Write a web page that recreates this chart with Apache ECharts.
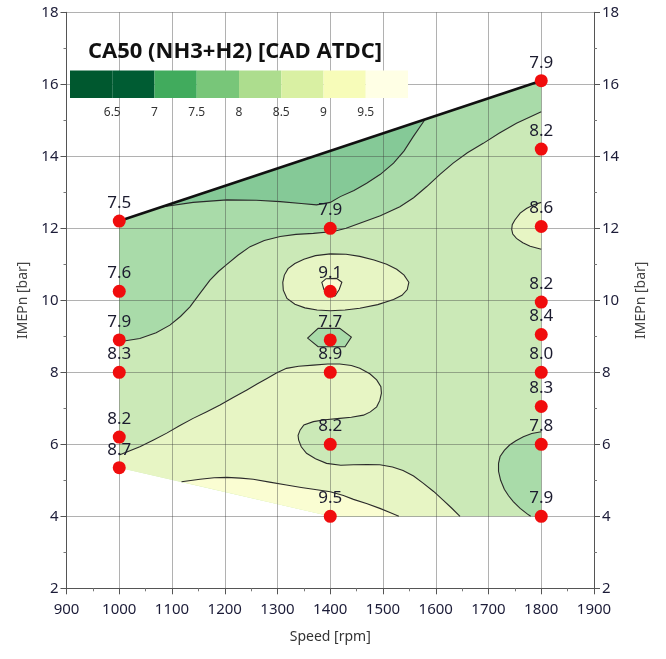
<!DOCTYPE html>
<html>
<head>
<meta charset="utf-8">
<script src="https://cdn.jsdelivr.net/npm/echarts@6/dist/echarts.min.js"></script>
<style>
  html, body { margin: 0; padding: 0; background: #ffffff; }
  #chart { width: 666px; height: 659px; }
</style>
</head>
<body>
<div id="chart"></div>
<script>
// Measured operating points: engine speed [rpm], IMEPn [bar], CA50 [CAD ATDC]
const ptSpeed = [1000, 1000, 1000, 1000, 1000, 1000,
                 1400, 1400, 1400, 1400, 1400, 1400,
                 1800, 1800, 1800, 1800, 1800, 1800, 1800, 1800, 1800];
const ptImep  = [12.2, 10.25, 8.9, 8.0, 6.2, 5.35,
                 12.0, 10.25, 8.9, 8.0, 6.0, 4.0,
                 16.1, 14.2, 12.05, 9.95, 9.05, 8.0, 7.05, 6.0, 4.0];
const ptCA50  = [7.5, 7.6, 7.9, 8.3, 8.2, 8.7,
                 7.9, 9.1, 7.7, 8.9, 8.2, 9.5,
                 7.9, 8.2, 8.6, 8.2, 8.4, 8.0, 8.3, 7.8, 7.9];

// Colour scale of the CA50 map (band edges and colours)
const levelEdges   = [6.0, 6.5, 7.0, 7.5, 8.0, 8.5, 9.0, 9.5, 10.0];
const levelColors  = ['#00582f', '#005c33', '#41ab5d', '#78c679', '#addd8e', '#d9f0a3', '#f7fcb9', '#ffffe5'];
const levelTicks   = [6.5, 7, 7.5, 8, 8.5, 9, 9.5];

// Map outline in (speed, IMEPn): full-load edge on top, measured range below
const fullLoadEdge = [[1000, 12.2], [1800, 16.1]];
const mapHull = [[1000, 12.2], [1800, 16.1], [1800, 4.0], [1400, 4.0], [1000, 5.35]];

// Iso-CA50 lines in (speed, IMEPn)
const iso75Top = [[1080, 12.59], [1140, 12.72], [1204, 12.79], [1260, 12.78], [1305, 12.74], [1345, 12.69],
                  [1374, 12.65], [1400, 12.72], [1419, 12.88], [1445, 13.05], [1469, 13.25], [1495, 13.5],
                  [1520, 13.81], [1540, 14.15], [1557, 14.54], [1580, 15.03]];
const iso8Top  = [[1000, 8.85], [1039, 8.94], [1070, 9.1], [1096, 9.31], [1116, 9.55], [1134, 9.82],
                  [1152, 10.17], [1172, 10.56], [1188, 10.8], [1204, 11.0], [1225, 11.25], [1248, 11.49],
                  [1275, 11.66], [1305, 11.77], [1335, 11.83], [1368, 11.86], [1406, 11.91], [1430, 12.0],
                  [1456, 12.14], [1495, 12.35], [1532, 12.6], [1558, 12.85], [1583, 13.16], [1608, 13.5],
                  [1633, 13.81], [1660, 14.1], [1690, 14.36], [1720, 14.64], [1753, 14.92], [1800, 15.24]];
const iso85Low = [[1000, 5.7], [1039, 5.93], [1065, 6.12], [1090, 6.31], [1115, 6.52], [1140, 6.72],
                  [1165, 6.9], [1191, 7.09], [1216, 7.3], [1242, 7.51], [1262, 7.68], [1280, 7.83],
                  [1298, 7.98], [1317, 8.11], [1340, 8.17], [1368, 8.2], [1395, 8.23], [1418, 8.23],
                  [1440, 8.19], [1456, 8.11], [1475, 7.96], [1488, 7.79], [1496, 7.6], [1497, 7.42],
                  [1494, 7.22], [1488, 7.04], [1476, 6.9], [1463, 6.81], [1440, 6.75], [1418, 6.72],
                  [1390, 6.68], [1368, 6.63], [1350, 6.54], [1343, 6.4], [1339, 6.25], [1340, 6.12],
                  [1345, 5.93], [1355, 5.75], [1372, 5.6], [1393, 5.47], [1420, 5.42], [1444, 5.43],
                  [1470, 5.44], [1494, 5.43], [1518, 5.37], [1538, 5.27], [1558, 5.12], [1576, 4.92],
                  [1596, 4.69], [1614, 4.45], [1630, 4.23], [1646, 4.0]];
const iso9Low  = [[1118, 4.96], [1153, 5.03], [1180, 5.07], [1204, 5.08], [1230, 5.06], [1254, 5.03],
                  [1285, 4.95], [1317, 4.87], [1345, 4.8], [1368, 4.75], [1400, 4.68], [1425, 4.58],
                  [1444, 4.47], [1470, 4.35], [1494, 4.22], [1512, 4.11], [1530, 4.0]];
const iso85Right = [[1800, 12.72], [1785, 12.65], [1772, 12.55], [1760, 12.42], [1750, 12.23], [1745, 12.1],
                    [1744, 11.97], [1746, 11.84], [1753, 11.72], [1765, 11.6], [1779, 11.5], [1800, 11.42]];
const iso8Right  = [[1800, 6.35], [1782, 6.3], [1766, 6.21], [1752, 6.1], [1740, 5.98], [1730, 5.83],
                    [1722, 5.66], [1719, 5.47], [1719, 5.25], [1723, 5.0], [1730, 4.75], [1738, 4.57],
                    [1747, 4.41], [1760, 4.22], [1774, 4.06], [1780, 4.0]];
const iso85Mid = [[1310, 10.5], [1313, 10.7], [1320, 10.88], [1333, 11.02], [1350, 11.14], [1372, 11.24],
                  [1400, 11.29], [1430, 11.28], [1456, 11.22], [1483, 11.12], [1507, 11.0], [1526, 10.86],
                  [1540, 10.7], [1549, 10.5], [1546, 10.3], [1536, 10.14], [1520, 10.02], [1490, 9.88],
                  [1456, 9.78], [1428, 9.73], [1400, 9.71], [1375, 9.73], [1352, 9.79], [1333, 9.89],
                  [1318, 10.05], [1311, 10.28]];
const iso9Mid  = [[1384, 10.5], [1392, 10.6], [1412, 10.61], [1422, 10.5], [1417, 10.3], [1409, 10.12],
                  [1397, 10.1], [1388, 10.3]];
const iso8Mid  = [[1357, 8.95], [1377, 9.22], [1418, 9.22], [1440, 8.98], [1428, 8.71], [1377, 8.71]];

// Filled bands, drawn in order, each with the band index of levelColors
const bandFills = [
  { pts: mapHull, band: 4 },
  { pts: [[1000, 12.2], [1800, 16.1]].concat(iso8Top.slice().reverse()), band: 3 },
  { pts: iso75Top, band: 2 },
  { pts: iso85Low.concat([[1400, 4.0], [1000, 5.35]]), band: 5 },
  { pts: iso9Low.concat([[1400, 4.0]]), band: 6 },
  { pts: iso85Right, band: 5 },
  { pts: iso8Right.concat([[1800, 4.0]]), band: 3 },
  { pts: iso85Mid, band: 5 },
  { pts: iso9Mid, band: 6 },
  { pts: iso8Mid, band: 3 }
];
const isoLines = [
  { pts: iso75Top, closed: false }, { pts: iso8Top, closed: false },
  { pts: iso85Low, closed: false }, { pts: iso9Low, closed: false },
  { pts: iso85Right, closed: false }, { pts: iso8Right, closed: false },
  { pts: iso85Mid, closed: true }, { pts: iso9Mid, closed: true }, { pts: iso8Mid, closed: true }
];

// Map fills are the scale colours washed out towards white
function washed(hex, a) {
  const n = parseInt(hex.slice(1), 16);
  const ch = [(n >> 16) & 255, (n >> 8) & 255, n & 255].map(c => Math.round(c * a + 255 * (1 - a)));
  return 'rgb(' + ch.join(',') + ')';
}
const FILL_ALPHA = 0.64;

const FONT = 'Noto Sans';
const chart = echarts.init(document.getElementById('chart'), null, { renderer: 'canvas' });

const gridStyle = { show: true, lineStyle: { color: 'rgba(60,60,60,0.4)', width: 1 } };
const axisLineStyle = { show: true, lineStyle: { color: '#555', width: 1 } };

chart.setOption({
  animation: false,
  backgroundColor: '#ffffff',
  title: {
    text: 'CA50 (NH3+H2) [CAD ATDC]',
    left: 83, top: 36,
    textStyle: { fontFamily: 'Open Sans', fontSize: 22, fontWeight: 'bold', color: '#111' }
  },
  grid: [
    { left: 66.5, right: 72, top: 12.3, bottom: 70.7 },
    { left: 70, width: 338, top: 70.5, height: 27.5 }
  ],
  xAxis: [
    {
      gridIndex: 0, type: 'value', min: 900, max: 1900, interval: 100, z: 3,
      axisLine: axisLineStyle,
      axisTick: { show: true, length: 6, lineStyle: { color: '#555' } },
      minorTick: { show: true, splitNumber: 2, length: 3, lineStyle: { color: '#777' } },
      splitLine: gridStyle,
      axisLabel: { fontFamily: FONT, fontSize: 15, color: '#1c1c38', margin: 14, formatter: v => String(v) },
      name: 'Speed [rpm]', nameLocation: 'middle', nameGap: 42,
      nameTextStyle: { fontFamily: FONT, fontSize: 14, color: '#333' }
    },
    {
      gridIndex: 1, type: 'value', min: 6, max: 10, interval: 0.5, z: 3,
      axisLine: { show: false }, axisTick: { show: false }, splitLine: { show: false },
      axisLabel: {
        fontFamily: FONT, fontSize: 12, color: '#333', margin: 9,
        formatter: v => (levelTicks.indexOf(v) >= 0 ? String(v) : '')
      }
    }
  ],
  yAxis: [
    {
      gridIndex: 0, type: 'value', min: 2, max: 18, interval: 2, position: 'left', z: 3,
      axisLine: axisLineStyle,
      axisTick: { show: true, length: 6, lineStyle: { color: '#555' } },
      minorTick: { show: true, splitNumber: 2, length: 3, lineStyle: { color: '#777' } },
      splitLine: gridStyle,
      axisLabel: { fontFamily: FONT, fontSize: 15, color: '#1c1c38', margin: 8 },
      name: 'IMEPn [bar]', nameLocation: 'middle', nameGap: 36, nameRotate: 90,
      nameTextStyle: { fontFamily: FONT, fontSize: 14, color: '#444' }
    },
    {
      gridIndex: 0, type: 'value', min: 2, max: 18, interval: 2, position: 'right', z: 3,
      axisLine: axisLineStyle,
      axisTick: { show: true, length: 6, lineStyle: { color: '#555' } },
      minorTick: { show: true, splitNumber: 2, length: 3, lineStyle: { color: '#777' } },
      splitLine: { show: false },
      axisLabel: { fontFamily: FONT, fontSize: 15, color: '#1c1c38', margin: 8 },
      name: 'IMEPn [bar]', nameLocation: 'middle', nameGap: 40, nameRotate: 90,
      nameTextStyle: { fontFamily: FONT, fontSize: 14, color: '#444' }
    },
    {
      gridIndex: 1, type: 'value', min: 0, max: 1, show: false
    }
  ],
  series: [
    {
      // coloured CA50 bands
      type: 'custom', xAxisIndex: 0, yAxisIndex: 0, z: 1, silent: true,
      data: bandFills.map((b, i) => [b.pts[0][0], b.pts[0][1], i]),
      renderItem: function (params, api) {
        const b = bandFills[params.dataIndex];
        return {
          type: 'polygon',
          shape: { points: b.pts.map(p => api.coord(p)) },
          style: { fill: washed(levelColors[b.band], FILL_ALPHA), stroke: null }
        };
      }
    },
    {
      // iso-CA50 lines
      type: 'custom', xAxisIndex: 0, yAxisIndex: 0, z: 2, silent: true,
      data: isoLines.map((l, i) => [l.pts[0][0], l.pts[0][1], i]),
      renderItem: function (params, api) {
        const l = isoLines[params.dataIndex];
        return {
          type: l.closed ? 'polygon' : 'polyline',
          shape: { points: l.pts.map(p => api.coord(p)) },
          style: { fill: null, stroke: '#2a2a2a', lineWidth: 1.1 }
        };
      }
    },
    {
      // full-load boundary
      type: 'line', xAxisIndex: 0, yAxisIndex: 0, z: 4, silent: true,
      data: fullLoadEdge, symbol: 'none',
      lineStyle: { color: '#111', width: 2.6 }
    },
    {
      // measured points with their CA50 values
      type: 'scatter', xAxisIndex: 0, yAxisIndex: 0, z: 6, silent: true,
      data: ptSpeed.map((s, i) => [s, ptImep[i], ptCA50[i]]),
      symbol: 'circle', symbolSize: 13,
      itemStyle: { color: '#f00d0d', opacity: 1 },
      label: {
        show: true, position: 'top', distance: 3,
        fontFamily: FONT, fontSize: 17, color: '#1b1b2e',
        formatter: p => p.value[2].toFixed(1)
      },
      labelLayout: { hideOverlap: false }
    },
    {
      // colour scale bar
      type: 'custom', xAxisIndex: 1, yAxisIndex: 2, z: 5, silent: true,
      data: levelColors.map((c, i) => [levelEdges[i], levelEdges[i + 1], i]),
      renderItem: function (params, api) {
        const i = params.dataIndex;
        const p0 = api.coord([levelEdges[i], 1]);
        const p1 = api.coord([levelEdges[i + 1], 0]);
        return {
          type: 'rect',
          shape: { x: p0[0], y: p0[1], width: p1[0] - p0[0], height: p1[1] - p0[1] },
          style: { fill: levelColors[i], stroke: null }
        };
      }
    }
  ]
});
</script>
</body>
</html>
